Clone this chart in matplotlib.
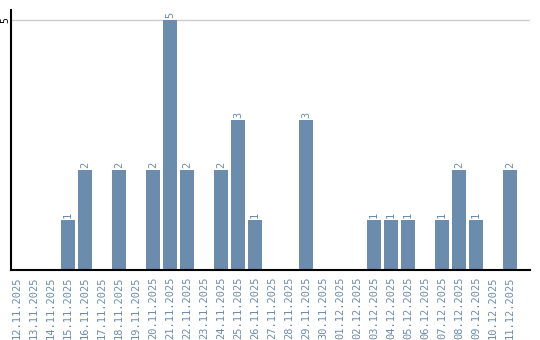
import matplotlib
matplotlib.use("Agg")
import matplotlib.pyplot as plt

dates = ["12.11.2025", "13.11.2025", "14.11.2025", "15.11.2025", "16.11.2025",
         "17.11.2025", "18.11.2025", "19.11.2025", "20.11.2025", "21.11.2025",
         "22.11.2025", "23.11.2025", "24.11.2025", "25.11.2025", "26.11.2025",
         "27.11.2025", "28.11.2025", "29.11.2025", "30.11.2025", "01.12.2025",
         "02.12.2025", "03.12.2025", "04.12.2025", "05.12.2025", "06.12.2025",
         "07.12.2025", "08.12.2025", "09.12.2025", "10.12.2025", "11.12.2025"]
counts = [0, 0, 0, 1, 2, 0, 2, 0, 2, 5, 2, 0, 2, 3, 1,
          0, 0, 3, 0, 0, 0, 1, 1, 1, 0, 1, 2, 1, 0, 2]

bar_color = "#6b8cac"
label_color = "#6a8caf"

fig = plt.figure(figsize=(5.4, 3.4), dpi=100)
ax = fig.add_axes([11/540, 70/340, 519/540, 260/340])

x = range(len(dates))
ax.bar(x, counts, width=0.82, color=bar_color)
for i, v in enumerate(counts):
    if v > 0:
        ax.text(i, v + 0.04, str(v), rotation=90, ha="center", va="bottom",
                color=label_color, fontsize=7.5, family="DejaVu Sans Mono")

ax.set_xlim(-0.35, 30.18)
ax.set_ylim(0, 5.2)
ax.set_yticks([5])
ax.set_yticklabels(["5"], rotation=90, ha="center", va="center", fontsize=7,
                   family="DejaVu Sans Mono")
ax.yaxis.grid(True, color="#cccccc", linewidth=1)
ax.set_axisbelow(True)
ax.set_xticks(list(x))
ax.set_xticklabels(dates, rotation=90, fontsize=7.5, color=label_color, family="DejaVu Sans Mono")
ax.tick_params(axis="x", length=0, pad=5)
ax.tick_params(axis="y", length=0, pad=4)

for s in ["top", "right"]:
    ax.spines[s].set_visible(False)
ax.spines["left"].set_linewidth(1.5)
ax.spines["bottom"].set_linewidth(1.5)

fig.savefig("out.png", dpi=100)
